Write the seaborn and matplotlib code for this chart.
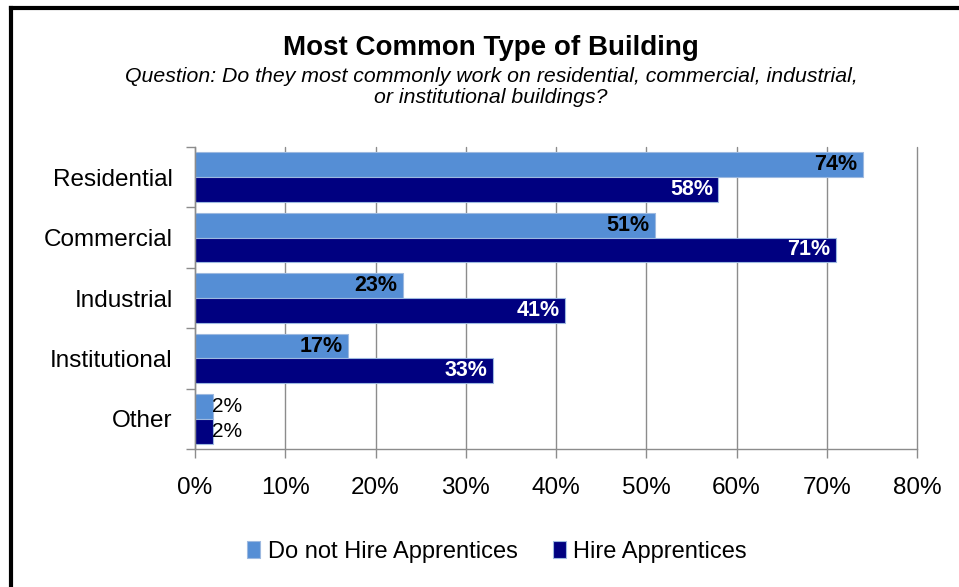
import matplotlib
matplotlib.use("Agg")
import matplotlib.pyplot as plt
from matplotlib.lines import Line2D
from matplotlib.ticker import FixedLocator, PercentFormatter
import pandas as pd
import seaborn as sns

# Survey results (% of respondents)
categories = ["Residential", "Commercial", "Industrial", "Institutional", "Other"]
series_names = ["Do not Hire Apprentices", "Hire Apprentices"]
no_hire = [74, 51, 23, 17, 2]
hire = [58, 71, 41, 33, 2]
x_ticks = [0, 10, 20, 30, 40, 50, 60, 70, 80]

title = "Most Common Type of Building"
subtitle = ("Question: Do they most commonly work on residential, commercial, industrial,\n"
            "or institutional buildings?")

light_blue = "#558ED5"
navy = "#000080"

df = pd.DataFrame({
    "category": categories * 2,
    "value": no_hire + hire,
    "group": [series_names[0]] * len(categories) + [series_names[1]] * len(categories),
})

sns.set_theme(style="white")
plt.rcParams["font.family"] = ["Liberation Sans", "DejaVu Sans"]
plt.rcParams["text.color"] = "black"

fig = plt.figure(figsize=(9.59, 5.87), dpi=100)
ax = fig.add_axes([195 / 959, 1 - 449 / 587, (917 - 195) / 959, (449 - 147) / 587])

sns.barplot(data=df, y="category", x="value", hue="group", orient="h",
            order=categories, hue_order=series_names,
            palette=[light_blue, navy], saturation=1, width=0.82,
            edgecolor="#9DB9E0", linewidth=0.8, ax=ax, legend=True)

ax.set_xlim(0, 80)
ax.set_ylim(len(categories) - 0.5, -0.5)
ax.set_xlabel("")
ax.set_ylabel("")

# Vertical gridlines and axis styling
grid_color = "#8C8C8C"
ax.xaxis.set_major_locator(FixedLocator(x_ticks))
ax.xaxis.set_major_formatter(PercentFormatter(decimals=0))
ax.grid(axis="x", color=grid_color, linewidth=1.0)
ax.set_axisbelow(True)
for gl in ax.get_xgridlines():
    gl.set_clip_on(False)
for side in ["top", "right"]:
    ax.spines[side].set_visible(False)
for side in ["left", "bottom"]:
    ax.spines[side].set_color(grid_color)
    ax.spines[side].set_linewidth(1.0)

ax.tick_params(axis="x", which="major", length=6.5, width=1.0, color=grid_color,
               pad=14, labelsize=17.5, labelcolor="black", bottom=True)
ax.set_yticks(range(len(categories)))
ax.set_yticklabels(categories)
ax.tick_params(axis="y", which="major", length=0, pad=16, labelsize=17.5, labelcolor="black")
ax.yaxis.set_minor_locator(FixedLocator([i - 0.5 for i in range(len(categories) + 1)]))
ax.tick_params(axis="y", which="minor", length=6.5, width=1.0, color=grid_color, left=True)

# Value labels
for container, color in zip(ax.containers, ["black", "white"]):
    for rect, val in zip(container, container.datavalues):
        y = rect.get_y() + rect.get_height() / 2
        if val >= 10:
            ax.annotate(f"{val:.0f}%", xy=(val, y), xytext=(-4, 0),
                        textcoords="offset points", ha="right", va="center",
                        fontsize=15.5, fontweight="bold", color=color)
        else:
            ax.annotate(f"{val:.0f}%", xy=(val, y), xytext=(-1, 0),
                        textcoords="offset points", ha="left", va="center",
                        fontsize=15, color="black")

# Legend below the plot
handles, labels = ax.get_legend_handles_labels()
ax.legend_.remove()
fig.legend(handles, labels, loc="center", bbox_to_anchor=(497 / 959, 1 - 552 / 587),
           ncol=2, frameon=False, fontsize=17, handlelength=0.55, handleheight=0.75,
           handletextpad=0.3, columnspacing=1.5, labelcolor="black")

# Titles
fig.text(491 / 959, 1 - 48 / 587, title, ha="center", va="center",
         fontsize=20, fontweight="bold", color="black")
fig.text(491 / 959, 1 - 87 / 587, subtitle, ha="center", va="center",
         fontsize=15.3, style="italic", linespacing=1.1, color="black")

# Frame lines along the top and left edges
fig.add_artist(Line2D([11 / 959, 1.0], [1 - 8 / 587, 1 - 8 / 587],
                      transform=fig.transFigure, color="black", linewidth=3,
                      solid_capstyle="projecting"))
fig.add_artist(Line2D([11 / 959, 11 / 959], [0.0, 1 - 8 / 587],
                      transform=fig.transFigure, color="black", linewidth=3,
                      solid_capstyle="projecting"))

fig.savefig("out.png", dpi=100, facecolor="white")
